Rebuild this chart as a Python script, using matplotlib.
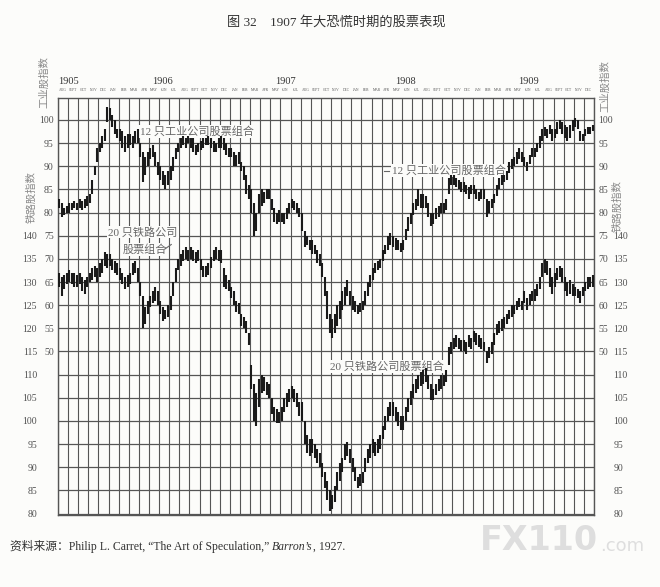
import matplotlib.pyplot as plt
import numpy as np

plt.rcParams['font.family'] = ['Liberation Serif', 'Noto Sans CJK SC']

# month columns, Aug 1905 .. Dec 1909
month_names = ['JAN', 'FEB', 'MAR', 'APR', 'MAY', 'JUN', 'JUL', 'AUG', 'SEPT', 'OCT', 'NOV', 'DEC']
months = month_names[7:] + month_names * 4
years = ['1905', '1906', '1907', '1908', '1909']
year_pos = [1.0, 10.3, 22.5, 34.4, 46.5]

ind_ticks = list(range(50, 101, 5))
rail_ticks = list(range(80, 141, 5))
rail_offset = 65  # rail scale = industrial scale + 65

# weekly (high, low), four bars per month
ind_bars = [
    [(83, 81), (82, 79), (81, 79.5), (81.5, 80)],          # 1905 aug
    [(82, 80), (82, 80.5), (82.5, 81), (82, 80.5)],
    [(83, 81), (82.5, 80.5), (83, 81), (83.5, 81.5)],
    [(84, 82), (87, 84), (90, 88), (94, 91)],
    [(95, 93), (96.5, 94), (98, 95.5), (102.7, 99.5)],
    [(102.5, 100), (101, 98.5), (100, 97), (98, 96)],       # 1906 jan
    [(98, 95.5), (97.5, 94), (96.5, 93), (97, 94)],
    [(97, 94.5), (96.5, 94), (97.5, 95), (98, 95)],
    [(95, 92), (93, 86.5), (92, 88), (93, 90)],
    [(94, 91.5), (94.5, 92), (93, 90), (91, 88)],
    [(90, 87), (89, 86), (88, 85), (89, 86)],
    [(90, 87), (92, 89), (94, 91.5), (95, 93)],
    [(96, 94), (96.5, 94.5), (96, 94), (96.5, 95)],
    [(96, 94), (96, 93), (94.5, 92.5), (95, 93)],
    [(95.5, 93.5), (96, 94), (96, 94.5), (96.5, 94.5)],
    [(96, 94), (95.5, 93), (95, 93), (96, 94)],
    [(96.5, 94), (96, 93.5), (95, 92.5), (94, 92)],
    [(94, 92), (93, 90), (92.5, 90), (93, 90.5)],           # 1907 jan
    [(91, 89), (90, 87), (88, 84), (86, 83)],
    [(85, 80), (82, 75), (80, 76), (84, 80)],
    [(85, 81.5), (84.5, 82), (85, 83), (85, 83)],
    [(83, 80.5), (81, 78), (80, 77.5), (80.5, 78)],
    [(80, 78), (80, 77.5), (81, 78.5), (82, 80)],
    [(83, 81), (82.5, 80.5), (82, 80), (81, 79)],
    [(80, 76), (76, 72.5), (75, 73), (74, 72)],
    [(74, 71), (73, 71), (72, 69), (71, 68.5)],
    [(69, 66), (66, 62), (63, 57), (58, 54)],
    [(57, 53), (58, 54), (60, 55.5), (61, 57)],
    [(63, 59), (64, 60), (65.5, 62), (63, 60)],
    [(62, 59), (61, 58.5), (60, 58), (60.5, 58.5)],         # 1908 jan
    [(61, 59), (63, 60), (65, 62), (66.5, 64)],
    [(68, 65.5), (69, 67), (69.5, 67.5), (70, 68)],
    [(72, 69.5), (73, 71), (75, 72), (75.5, 73)],
    [(75, 72.5), (74.5, 72), (74, 72), (73.5, 71.5)],
    [(74, 72), (76.5, 74), (79, 76), (80, 77.5)],
    [(82, 79.5), (83, 80.5), (85, 81.5), (84, 81)],
    [(84, 81), (83.5, 81), (82, 79), (80, 77)],
    [(80, 77.5), (81, 78.5), (81.5, 79), (82, 80)],
    [(82, 80), (83, 80.5), (87.5, 84), (88, 86)],
    [(88, 86), (87.5, 85.5), (87, 85), (86.5, 84.5)],
    [(86.5, 84.5), (86, 84), (85.5, 83), (86, 84)],
    [(86, 84), (85, 83), (84.5, 82.5), (85, 83)],           # 1909 jan
    [(85, 83), (83, 79), (82.5, 80), (83, 81)],
    [(84, 82), (86, 83.5), (87.5, 85), (88, 86)],
    [(88, 86.5), (89, 87), (91, 88.5), (91.5, 89.5)],
    [(92, 90), (93, 90.5), (94, 91.5), (93, 91)],
    [(92, 90), (91, 89), (92.5, 90.5), (94, 92)],
    [(94, 92), (95, 93), (96.5, 94), (98, 95.5)],
    [(98.5, 96.5), (98, 96), (99, 97), (98, 95.5)],
    [(98, 96), (99.5, 97), (100, 98), (99.5, 97)],
    [(99, 96), (98.5, 95.5), (99, 96), (100, 97.5)],
    [(100.5, 98.5), (100, 98), (97.5, 95.5), (97, 95.5)],
    [(98, 96.5), (98.5, 97), (98.5, 97), (99, 97.5)],
]

rail_bars = [
    [(132, 129), (131, 127), (131.5, 128.5), (132, 129.5)],   # 1905 aug
    [(132.5, 130), (132, 129.5), (132, 129), (131.5, 129)],
    [(132, 129.5), (131, 128), (130.5, 127.5), (131, 129)],
    [(132, 130), (133, 130.5), (133.5, 131), (133, 130)],
    [(134, 131), (135, 132), (136.5, 133.5), (136, 133)],
    [(136, 133.5), (135, 132.5), (134.5, 132), (134, 131.5)],  # 1906 jan
    [(133, 130.5), (132, 129.5), (131, 128.5), (131.5, 129)],
    [(132, 129.5), (134, 131.5), (134.5, 132), (133, 130)],
    [(130, 127), (127, 120), (124.5, 121), (126, 123)],
    [(127, 124.5), (128, 125.5), (129, 126), (128, 125)],
    [(126, 123), (124.5, 121.5), (124, 122), (125, 122.5)],
    [(127, 124), (130, 127), (133, 130), (135, 132.5)],
    [(136, 133.5), (137, 134.5), (137.5, 135), (137, 134.5)],
    [(137.5, 135), (137, 134.5), (136.5, 134), (137, 134.5)],
    [(135, 132.5), (133.5, 131), (133.5, 131), (134, 131.5)],
    [(135.5, 133), (137, 134.5), (137.5, 135), (137, 134.5)],
    [(137, 134), (133, 129), (131.5, 128.5), (130.5, 128)],
    [(129, 126.5), (128, 125), (126, 123.5), (125.5, 123)],    # 1907 jan
    [(123, 120.5), (122.5, 120), (121.5, 119), (119, 116.5)],
    [(112, 107), (108, 100), (106, 99), (109, 103)],
    [(110, 106), (109.5, 106.5), (108.5, 105.5), (108, 105)],
    [(105, 101.5), (103, 100), (102.5, 99.5), (102, 99.5)],
    [(103, 100), (105, 102), (106, 103), (107, 104)],
    [(107.5, 105), (107, 104), (106, 103), (104, 101)],
    [(104, 100), (100, 95), (97, 93), (96, 92.5)],
    [(96, 93), (95, 92), (94, 91), (93, 90)],
    [(91, 88), (89, 85.5), (87, 83), (85, 80.5)],
    [(84, 81), (86, 82.5), (89, 85), (91, 87)],
    [(92, 89), (95, 91.5), (95.5, 92.5), (94, 91)],
    [(92, 89), (90, 87), (88, 85.5), (88.5, 86)],              # 1908 jan
    [(89, 86.5), (92, 89), (94, 91), (95, 92)],
    [(96, 93), (95.5, 92.5), (96, 93), (97, 94)],
    [(99, 96), (101, 98), (103, 100), (104, 101)],
    [(104, 101), (103, 100), (102, 99), (101, 98)],
    [(101, 98), (103, 100), (105, 102), (106.5, 103.5)],
    [(108, 105), (109, 106), (110, 107), (110.5, 107.5)],
    [(111, 108), (111.5, 108.5), (110, 107), (108, 104.5)],
    [(107, 104.5), (108, 105.5), (109, 106.5), (110, 107)],
    [(110, 107.5), (111, 108.5), (116, 112), (117, 114.5)],
    [(118, 115.5), (118.5, 116), (118, 115.5), (117.5, 115)],
    [(117.5, 115), (117, 114.5), (118.5, 116), (118, 115.5)],
    [(119.5, 117), (119, 116.5), (118.5, 116), (118, 115.5)],  # 1909 jan
    [(117, 115), (115, 112.5), (116, 113.5), (117, 114.5)],
    [(119, 116.5), (121, 118.5), (121.5, 119), (122, 119.5)],
    [(122.5, 120), (123, 121), (124, 122), (125, 122.5)],
    [(125, 123), (126, 124), (126.5, 124.5), (126, 124)],
    [(128, 125.5), (126.5, 124), (127.5, 125), (128, 126)],
    [(128.5, 126), (129.5, 127), (131, 128.5), (134, 131)],
    [(135, 132), (134.5, 131.5), (133, 129), (131, 127.5)],
    [(132, 129), (133, 130.5), (133.5, 131), (133, 130)],
    [(131, 128), (130, 127), (130.5, 127.5), (129.5, 127)],
    [(129, 127), (128.5, 126.5), (128, 125.5), (129, 127)],
    [(130, 128), (131, 128.5), (131, 129), (131.5, 129)],
]

ind = np.array(ind_bars, dtype=float)
rail = np.array(rail_bars, dtype=float)
n_months = len(months)
xw = (np.arange(n_months)[:, None] + (np.arange(4)[None, :] + 0.5) / 4).ravel()

bg = '#fcfcfa'
grid_c = '#555555'
txt_c = '#505050'

fig = plt.figure(figsize=(6.6, 5.87), dpi=100, facecolor=bg)
ax = fig.add_axes([0.0879, 0.1227, 0.9 - 0.0879, 0.8336 - 0.1227])
ax.set_facecolor(bg)
ax.set_xlim(0, n_months)
ax.set_ylim(14.7, 104.8)

for v in range(n_months + 1):
    ax.axvline(v, color=grid_c, lw=0.8, zorder=1)
for h in range(15, 105, 5):
    ax.axhline(h, color=grid_c, lw=0.9, zorder=1)
for s in ax.spines.values():
    s.set_color(grid_c)
    s.set_linewidth(1.0)

# high-low bars
ax.vlines(xw, ind[:, :, 1].ravel(), ind[:, :, 0].ravel(), color='#1a1a1a', lw=1.5, zorder=3)
ax.vlines(xw, rail[:, :, 1].ravel() - rail_offset, rail[:, :, 0].ravel() - rail_offset,
          color='#1a1a1a', lw=1.5, zorder=3)

ax.set_xticks([])
ax.set_yticks(ind_ticks)
ax.set_yticklabels([str(t) for t in ind_ticks])
ax.tick_params(axis='y', length=0, pad=3, labelsize=7, labelcolor=txt_c,
               left=True, right=True, labelleft=True, labelright=True)

for side, pad in (('left', 15), ('right', 14)):
    sec = ax.secondary_yaxis(side, functions=(lambda y: y + rail_offset, lambda y: y - rail_offset))
    sec.set_yticks(rail_ticks)
    sec.set_yticklabels([str(t) for t in rail_ticks])
    sec.tick_params(length=0, pad=pad, labelsize=7, labelcolor=txt_c)
    sec.spines[side].set_visible(False)

# month and year labels above the grid
for i, m in enumerate(months):
    ax.text(i + 0.5, 1.013, m, transform=ax.get_xaxis_transform(), ha='center', va='bottom',
            fontsize=2.6, color='#555555')
for yr, xp in zip(years, year_pos):
    ax.text(xp, 1.028, yr, transform=ax.get_xaxis_transform(), ha='center', va='bottom',
            fontsize=7.5, color='#333333')

# series labels (drawn over the grid, under the bars)
lab = dict(fontsize=8, color='#666666', ha='center', va='center', zorder=2,
           bbox=dict(facecolor=bg, edgecolor='none', pad=0.8))
ax.text(13.7, 97.6, '12 只工业公司股票组合', **lab)
ax.text(38.7, 89.0, '12 只工业公司股票组合', **lab)
ax.text(8.4, 75.8, '20 只铁路公司', **lab)
ax.text(8.55, 72.1, '股票组合', **lab)
ax.text(32.5, 46.8, '20 只铁路公司股票组合', **lab)
ax.plot([32.2, 32.7], [89.0, 89.0], color='#666666', lw=0.8, zorder=2)
ax.plot([10.55, 11.2], [72.1, 73.1], color='#666666', lw=0.8, zorder=2)

# scale titles
vt = dict(rotation=90, ha='center', va='center', fontsize=7.5, color='#888888',
          family='Noto Sans CJK SC')
fig.text(44 / 660, 1 - 82 / 587, '工业股指数', **vt)
fig.text(605 / 660, 1 - 86 / 587, '工业股指数', **vt)
fig.text(31 / 660, 1 - 197 / 587, '铁路股指数', **vt)
fig.text(617 / 660, 1 - 206 / 587, '铁路股指数', **vt)

fig.text(0.51, 1 - 22 / 587, '图 32　1907 年大恐慌时期的股票表现', ha='center', va='center',
         fontsize=9.5, color='#333333')

t1 = fig.text(10 / 660, 1 - 546 / 587, '资料来源：Philip L. Carret, “The Art of Speculation,” ',
              ha='left', va='center', fontsize=8.5, color='#333333')
t2 = ax.annotate('Barron’s', xy=(1, 0), xycoords=t1, ha='left', va='bottom',
                 fontsize=8.5, color='#333333', style='italic', annotation_clip=False)
ax.annotate(', 1927.', xy=(1, 0), xycoords=t2, ha='left', va='bottom',
            fontsize=8.5, color='#333333', annotation_clip=False)

# watermark of the scan
fig.text(480 / 660, 1 - 541 / 587, 'FX110', ha='left', va='center', fontsize=24,
         fontweight='bold', color='#dedede', family='DejaVu Sans')
fig.text(600 / 660, 1 - 546 / 587, '.com', ha='left', va='center', fontsize=13,
         color='#dedede', family='DejaVu Sans')

fig.savefig('out.png', dpi=100, facecolor=bg)
